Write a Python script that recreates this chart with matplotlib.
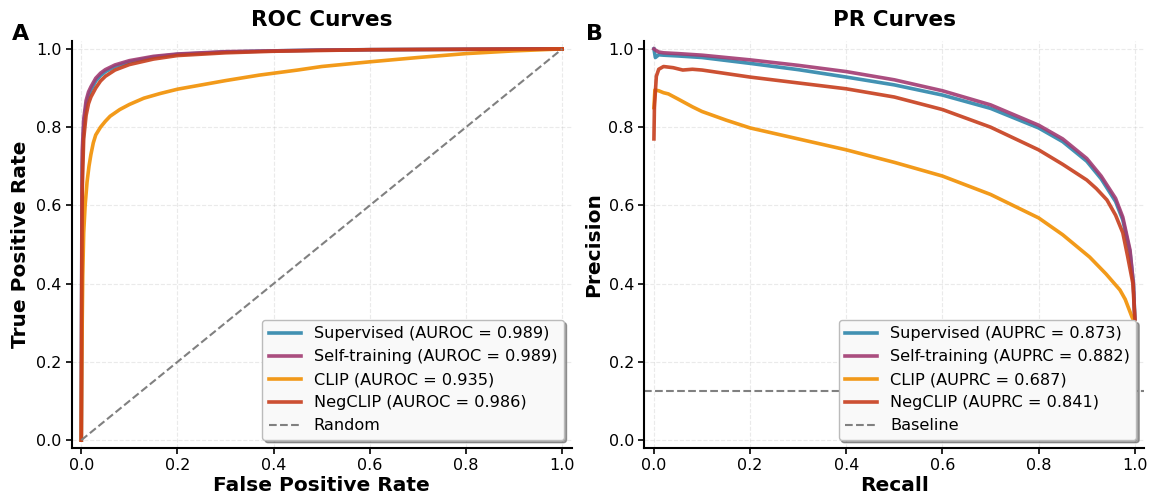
import matplotlib
matplotlib.use("Agg")
import matplotlib.pyplot as plt
import numpy as np

# model names, colours and scores
models = ["Supervised", "Self-training", "CLIP", "NegCLIP"]
colors = ["#2E86AB", "#A23B72", "#F18F01", "#C73E1D"]
auroc = [0.989, 0.989, 0.935, 0.986]
auprc = [0.873, 0.882, 0.687, 0.841]
baseline_prec = 0.125

# ROC curves
roc_fpr_sup = [0, 0.001, 0.002, 0.005, 0.01, 0.015, 0.02, 0.03, 0.04, 0.05, 0.07, 0.1, 0.15, 0.2, 0.3, 0.4, 0.5, 0.6, 0.8, 1.0]
roc_tpr_sup = [0, 0.45, 0.70, 0.80, 0.855, 0.88, 0.895, 0.918, 0.932, 0.942, 0.955, 0.967, 0.979, 0.986, 0.992, 0.995, 0.997, 0.998, 0.999, 1.0]
roc_fpr_self = [0, 0.001, 0.002, 0.005, 0.01, 0.015, 0.02, 0.03, 0.04, 0.05, 0.07, 0.1, 0.15, 0.2, 0.3, 0.4, 0.5, 0.6, 0.8, 1.0]
roc_tpr_self = [0, 0.50, 0.74, 0.82, 0.868, 0.89, 0.903, 0.925, 0.938, 0.947, 0.959, 0.970, 0.981, 0.987, 0.993, 0.995, 0.997, 0.998, 0.999, 1.0]
roc_fpr_clip = [0, 0.001, 0.003, 0.005, 0.008, 0.012, 0.016, 0.02, 0.025, 0.03, 0.04, 0.05, 0.06, 0.08, 0.1, 0.13,
                0.164, 0.2, 0.25, 0.3, 0.37, 0.45, 0.5, 0.6, 0.7, 0.8, 0.9, 1.0]
roc_tpr_clip = [0, 0.2, 0.42, 0.53, 0.60, 0.66, 0.70, 0.73, 0.76, 0.78, 0.80, 0.815, 0.828, 0.845, 0.858, 0.874,
                0.886, 0.897, 0.908, 0.919, 0.933, 0.946, 0.955, 0.967, 0.978, 0.988, 0.995, 1.0]
roc_fpr_neg = [0, 0.001, 0.002, 0.005, 0.01, 0.015, 0.02, 0.03, 0.04, 0.05, 0.07, 0.1, 0.15, 0.2, 0.3, 0.4, 0.5, 0.6, 0.8, 1.0]
roc_tpr_neg = [0, 0.40, 0.64, 0.77, 0.83, 0.86, 0.877, 0.900, 0.918, 0.93, 0.946, 0.96, 0.974, 0.983, 0.99, 0.994, 0.996, 0.998, 0.999, 1.0]

# PR curves
pr_rec_sup = [0, 0.003, 0.01, 0.02, 0.05, 0.1, 0.2, 0.3, 0.4, 0.5, 0.6, 0.7, 0.8, 0.85, 0.9, 0.93, 0.96, 0.975, 0.99, 0.997, 1.0]
pr_prec_sup = [1.0, 0.978, 0.985, 0.984, 0.982, 0.978, 0.963, 0.947, 0.928, 0.908, 0.882, 0.848, 0.798, 0.763, 0.713, 0.668, 0.61, 0.563, 0.48, 0.40, 0.31]
pr_rec_self = [0, 0.003, 0.01, 0.02, 0.05, 0.1, 0.2, 0.3, 0.4, 0.5, 0.6, 0.7, 0.8, 0.85, 0.9, 0.93, 0.96, 0.975, 0.99, 0.997, 1.0]
pr_prec_self = [1.0, 0.997, 0.992, 0.99, 0.988, 0.984, 0.972, 0.958, 0.942, 0.921, 0.893, 0.857, 0.805, 0.77, 0.72, 0.675, 0.618, 0.57, 0.486, 0.40, 0.31]
pr_rec_clip = [0, 0.002, 0.01, 0.02, 0.03, 0.05, 0.08, 0.1, 0.15, 0.2, 0.3, 0.4, 0.5, 0.6, 0.7, 0.8, 0.85, 0.906, 0.94, 0.969, 0.98, 0.994, 1.0]
pr_prec_clip = [0.85, 0.895, 0.893, 0.888, 0.885, 0.872, 0.852, 0.84, 0.818, 0.798, 0.77, 0.742, 0.71, 0.675, 0.628, 0.568, 0.525, 0.468, 0.425, 0.384, 0.36, 0.315, 0.30]
pr_rec_neg = [0, 0.001, 0.005, 0.01, 0.02, 0.04, 0.06, 0.08, 0.1, 0.2, 0.3, 0.4, 0.5, 0.6, 0.7, 0.8, 0.85, 0.9, 0.92, 0.942, 0.96, 0.975, 0.985, 0.996, 1.0]
pr_prec_neg = [0.77, 0.85, 0.93, 0.948, 0.955, 0.952, 0.946, 0.948, 0.946, 0.928, 0.913, 0.898, 0.877, 0.845, 0.80, 0.742, 0.705, 0.665, 0.643, 0.614, 0.575, 0.53, 0.47, 0.40, 0.31]

roc_data = [(roc_fpr_sup, roc_tpr_sup), (roc_fpr_self, roc_tpr_self),
            (roc_fpr_clip, roc_tpr_clip), (roc_fpr_neg, roc_tpr_neg)]
pr_data = [(pr_rec_sup, pr_prec_sup), (pr_rec_self, pr_prec_self),
           (pr_rec_clip, pr_prec_clip), (pr_rec_neg, pr_prec_neg)]


def style_axis(ax, title, xlabel, ylabel):
    ax.set_title(title, fontsize=15.5, fontweight="bold", pad=11)
    ax.set_xlabel(xlabel, fontsize=14.5, fontweight="bold", labelpad=2)
    ax.set_ylabel(ylabel, fontsize=14.5, fontweight="bold")
    ax.set_xlim(-0.02, 1.02)
    ax.set_ylim(-0.02, 1.02)
    ax.set_xticks(np.arange(0, 1.01, 0.2))
    ax.set_yticks(np.arange(0, 1.01, 0.2))
    ax.tick_params(labelsize=11.5, width=1.2, length=4)
    ax.grid(True, linestyle="--", alpha=0.3, color="#bbbbbb")
    for side in ("top", "right"):
        ax.spines[side].set_visible(False)
    for side in ("left", "bottom"):
        ax.spines[side].set_linewidth(1.5)


def add_legend(ax):
    ax.legend(loc="lower right", fontsize=11.6, shadow=True, fancybox=True,
              framealpha=1.0, facecolor="#f9f9f9", edgecolor="#bbbbbb")


fig, (ax1, ax2) = plt.subplots(1, 2, figsize=(11.56, 4.95), dpi=100)
fig.subplots_adjust(left=0.062, right=0.99, bottom=0.095, top=0.917, wspace=0.145)

for name, color, score, (x, y) in zip(models, colors, auroc, roc_data):
    ax1.plot(x, y, color=color, lw=2.6, alpha=0.9, label=f"{name} (AUROC = {score:.3f})")
ax1.plot([0, 1], [0, 1], "--", color="gray", lw=1.5, label="Random")
style_axis(ax1, "ROC Curves", "False Positive Rate", "True Positive Rate")
add_legend(ax1)

for name, color, score, (x, y) in zip(models, colors, auprc, pr_data):
    ax2.plot(x, y, color=color, lw=2.6, alpha=0.9, label=f"{name} (AUPRC = {score:.3f})")
ax2.axhline(baseline_prec, linestyle="--", color="gray", lw=1.5, label="Baseline")
style_axis(ax2, "PR Curves", "Recall", "Precision")
add_legend(ax2)

fig.text(0.0104, 0.919, "A", fontsize=16, fontweight="bold", va="baseline")
fig.text(0.507, 0.919, "B", fontsize=16, fontweight="bold", va="baseline")

fig.savefig("out.png", dpi=100)
